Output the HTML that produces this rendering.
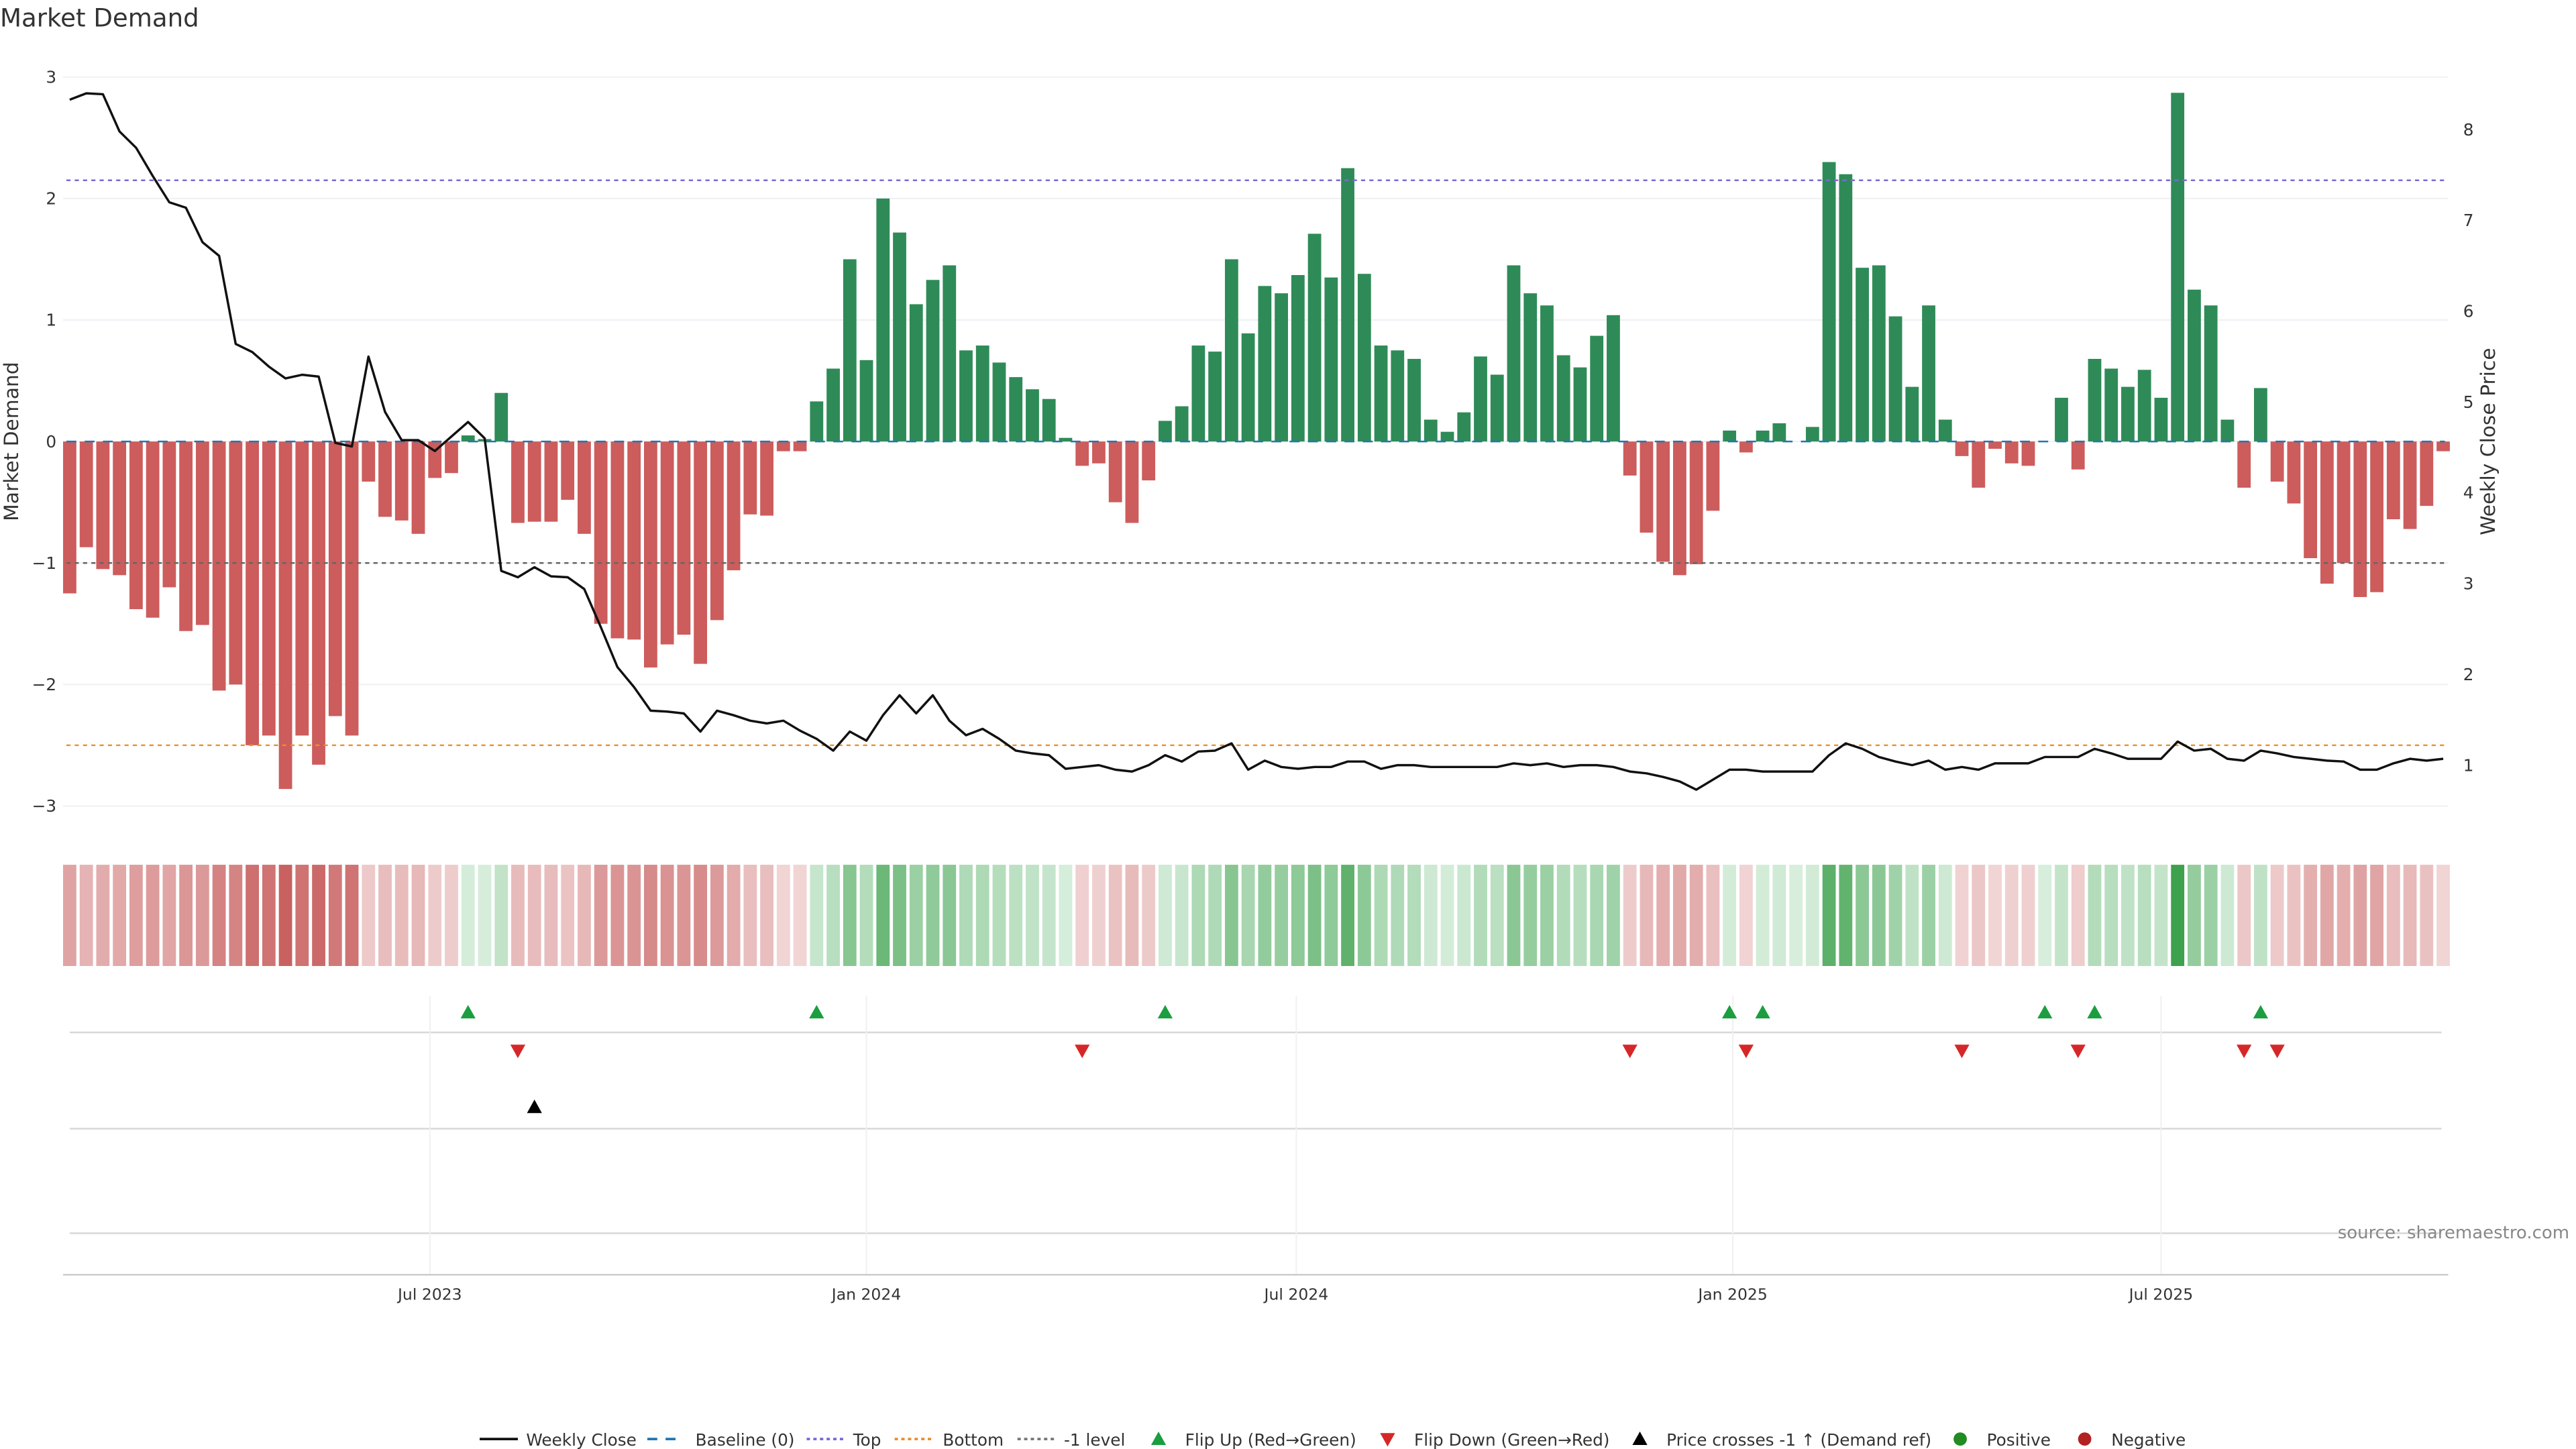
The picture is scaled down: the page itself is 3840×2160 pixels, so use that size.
<!DOCTYPE html>
<html><head><meta charset="utf-8"><style>
html,body{margin:0;padding:0;background:#fff;}
svg{display:block;font-family:"DejaVu Sans","Liberation Sans",sans-serif;}
</style></head><body>
<svg id="chart" width="3840" height="2160" viewBox="0 0 1552 873" preserveAspectRatio="none" xmlns="http://www.w3.org/2000/svg">
<text x="0" y="16" font-size="15" fill="#333">Market Demand</text>
<g id="grid"></g>
<g id="bars"></g>
<g id="refs"></g>
<g id="price"></g>
<g id="axes"></g>
<g id="heat"></g>
<g id="markers"></g>
<text x="1548" y="746" font-size="10.5" fill="#888" text-anchor="end">source: sharemaestro.com</text>
<g id="legend"></g>
</svg>
<script>
const demand=[-1.25,-0.87,-1.05,-1.1,-1.38,-1.45,-1.2,-1.56,-1.51,-2.05,-2.0,-2.5,-2.42,-2.86,-2.42,-2.66,-2.26,-2.42,-0.33,-0.62,-0.65,-0.76,-0.3,-0.26,0.05,0.02,0.4,-0.67,-0.66,-0.66,-0.48,-0.76,-1.5,-1.62,-1.63,-1.86,-1.67,-1.59,-1.83,-1.47,-1.06,-0.6,-0.61,-0.08,-0.08,0.33,0.6,1.5,0.67,2.0,1.72,1.13,1.33,1.45,0.75,0.79,0.65,0.53,0.43,0.35,0.03,-0.2,-0.18,-0.5,-0.67,-0.32,0.17,0.29,0.79,0.74,1.5,0.89,1.28,1.22,1.37,1.71,1.35,2.25,1.38,0.79,0.75,0.68,0.18,0.08,0.24,0.7,0.55,1.45,1.22,1.12,0.71,0.61,0.87,1.04,-0.28,-0.75,-0.99,-1.1,-1.01,-0.57,0.09,-0.09,0.09,0.15,0,0.12,2.3,2.2,1.43,1.45,1.03,0.45,1.12,0.18,-0.12,-0.38,-0.06,-0.18,-0.2,0,0.36,-0.23,0.68,0.6,0.45,0.59,0.36,2.87,1.25,1.12,0.18,-0.38,0.44,-0.33,-0.51,-0.96,-1.17,-1.0,-1.28,-1.24,-0.64,-0.72,-0.53,-0.08];
const price=[8.33,8.4,8.39,7.98,7.8,7.49,7.2,7.14,6.76,6.61,5.64,5.55,5.39,5.26,5.3,5.28,4.55,4.51,5.5,4.89,4.58,4.58,4.46,4.62,4.78,4.6,3.14,3.07,3.18,3.08,3.07,2.94,2.52,2.08,1.86,1.6,1.59,1.57,1.37,1.6,1.55,1.49,1.46,1.49,1.38,1.29,1.16,1.37,1.27,1.55,1.77,1.57,1.77,1.49,1.33,1.4,1.29,1.16,1.13,1.11,0.96,0.98,1.0,0.95,0.93,1.0,1.11,1.04,1.15,1.16,1.24,0.95,1.05,0.98,0.96,0.98,0.98,1.04,1.04,0.96,1.0,1.0,0.98,0.98,0.98,0.98,0.98,1.02,1.0,1.02,0.98,1.0,1.0,0.98,0.93,0.91,0.87,0.82,0.73,0.84,0.95,0.95,0.93,0.93,0.93,0.93,1.11,1.24,1.18,1.09,1.04,1.0,1.05,0.95,0.98,0.95,1.02,1.02,1.02,1.09,1.09,1.09,1.18,1.13,1.07,1.07,1.07,1.26,1.16,1.18,1.07,1.05,1.16,1.13,1.09,1.07,1.05,1.04,0.95,0.95,1.02,1.07,1.05,1.07];
const priceCrossIdx=[28];
const leftTicks=[-3,-2,-1,0,1,2,3];
const leftTickLabels=["\u22123","\u22122","\u22121","0","1","2","3"];
const rightTicks=[1,2,3,4,5,6,7,8];
const monthIdx=[21.7,48,73.9,100.2,126];
const monthLabels=["Jul 2023","Jan 2024","Jul 2024","Jan 2025","Jul 2025"];
const topLevel=2.15, bottomLevel=-2.5, minusOne=-1;

const NS="http://www.w3.org/2000/svg";
function mk(parent,tag,attrs){const e=document.createElementNS(NS,tag);for(const k in attrs)e.setAttribute(k,attrs[k]);document.getElementById(parent).appendChild(e);return e;}
const X0=38,X1=1475;
const xOf=i=>42+i*10.0;
const yL=v=>266-v*73.2;
const yR=p=>461-(p-1)*54.7;

// grid
leftTicks.forEach((t,k)=>{
  let g=mk('grid','line',{x1:X0,x2:X1,y1:yL(t),y2:yL(t),stroke:'#eef0f3','stroke-width':0.8});
  
  
  let tx=mk('axes','text',{x:34,y:yL(t)+3.5,'font-size':10,fill:'#333','text-anchor':'end'});
  tx.textContent=leftTickLabels[k];
  
  
});
rightTicks.forEach(t=>{
  let tx=mk('axes','text',{x:1484,y:yR(t)+3.5,'font-size':10,fill:'#333'});
  tx.textContent=String(t);
  
  
});
let yl=mk('axes','text',{x:11,y:266,'font-size':12,fill:'#333','text-anchor':'middle',transform:'rotate(-90 11 266)'});
yl.textContent='Market Demand';


let yr=mk('axes','text',{x:1503,y:266,'font-size':12,fill:'#333','text-anchor':'middle',transform:'rotate(-90 1503 266)'});
yr.textContent='Weekly Close Price';



// bars
demand.forEach((v,i)=>{
  const y=Math.min(yL(v),yL(0)),h=Math.abs(yL(v)-yL(0));
  let r=mk('bars','rect',{x:xOf(i)-4,y:y,width:8,height:Math.max(h,0),fill:v>=0?'#2e8b57':'#cd5c5c'});
  
  
});
// reference lines
function ref(v,color,dash,name){
  let l=mk('refs','line',{x1:40,x2:1473,y1:yL(v),y2:yL(v),stroke:color,'stroke-width':1,'stroke-dasharray':dash});
  
  
}
ref(0,'#1f77b4','6 5','baseline-line');
ref(topLevel,'#7b68d8','2.5 2.5','top-line');
ref(bottomLevel,'#e8902a','2.5 2.5','bottom-line');
ref(minusOne,'#666','2.5 2.5','minus-one-line');
// price line
let pts=price.map((p,i)=>xOf(i)+','+yR(p)).join(' ');
let pl=mk('price','polyline',{points:pts,fill:'none',stroke:'#111','stroke-width':1.4,'stroke-linejoin':'round'});



// heat strip
demand.forEach((v,i)=>{
  const a=Math.min(Math.abs(v)/2.9,1);
  let c;
  if(v>=0){c=`rgb(${Math.round(215-(215-60)*a)},${Math.round(238-(238-160)*a)},${Math.round(220-(220-75)*a)})`;}
  else{c=`rgb(${Math.round(242-(242-200)*a)},${Math.round(215-(215-95)*a)},${Math.round(215-(215-95)*a)})`;}
  let r=mk('heat','rect',{x:xOf(i)-4,y:521,width:8,height:61,fill:c});
  
  
});

// marker rows & x axis
[622,680,743].forEach(y=>{
  let l=mk('markers','line',{x1:42,x2:1471,y1:y,y2:y,stroke:'#d8d8d8','stroke-width':1});
  
  
});
monthIdx.forEach((m,k)=>{
  const x=xOf(m);
  let g=mk('markers','line',{x1:x,x2:x,y1:600,y2:768,stroke:'#f0f0f0','stroke-width':0.8});
  
  
  let t=mk('markers','text',{x:x,y:783,'font-size':9.5,fill:'#333','text-anchor':'middle'});
  t.textContent=monthLabels[k];
  
  
});
let ax=mk('markers','line',{x1:X0,x2:X1,y1:768,y2:768,stroke:'#ccc','stroke-width':1});


function tri(g,x,y,up,color,name){
  const s=4.5;
  const p=up?`${x},${y-s} ${x-s},${y+s*0.8} ${x+s},${y+s*0.8}`:`${x},${y+s} ${x-s},${y-s*0.8} ${x+s},${y-s*0.8}`;
  let t=mk(g,'polygon',{points:p,fill:color});
  
  
  return t;
}
for(let i=1;i<demand.length;i++){
  if(demand[i]>=0&&demand[i-1]<0) tri('markers',xOf(i),610,true,'#1a9e3f','flip-up-marker');
  if(demand[i]<0&&demand[i-1]>=0) tri('markers',xOf(i),633,false,'#d62728','flip-down-marker');
}
priceCrossIdx.forEach(i=>tri('markers',xOf(i),667,true,'#000','price-cross-marker'));

// legend
function ltext(x,s){let t=mk('legend','text',{x:x,y:871,'font-size':10,fill:'#333'});t.textContent=s;}
function lline(x1,x2,color,dash,w){let l=mk('legend','line',{x1:x1,x2:x2,y1:867,y2:867,stroke:color,'stroke-width':w,'stroke-dasharray':dash});}
lline(289,312,'#111','',1.5);ltext(317,'Weekly Close');
lline(390,412,'#1f77b4','6 5',1.5);ltext(419,'Baseline (0)');
lline(486,509,'#7b68d8','2 2',1.5);ltext(514,'Top');
lline(539,562,'#e8902a','2 2',1.5);ltext(568,'Bottom');
lline(613,636,'#777','2 2',1.5);ltext(641,'-1 level');
tri('legend',698,867,true,'#1a9e3f','legend-flip-up');ltext(714,'Flip Up (Red\u2192Green)');
tri('legend',836,867,false,'#d62728','legend-flip-down');ltext(852,'Flip Down (Green\u2192Red)');
tri('legend',988,867,true,'#000','legend-price-cross');ltext(1004,'Price crosses -1 \u2191 (Demand ref)');
let c1=mk('legend','circle',{cx:1181,cy:867,r:4,fill:'#228b22'});ltext(1197,'Positive');
let c2=mk('legend','circle',{cx:1256,cy:867,r:4,fill:'#b22222'});ltext(1272,'Negative');
</script>
</body></html>
